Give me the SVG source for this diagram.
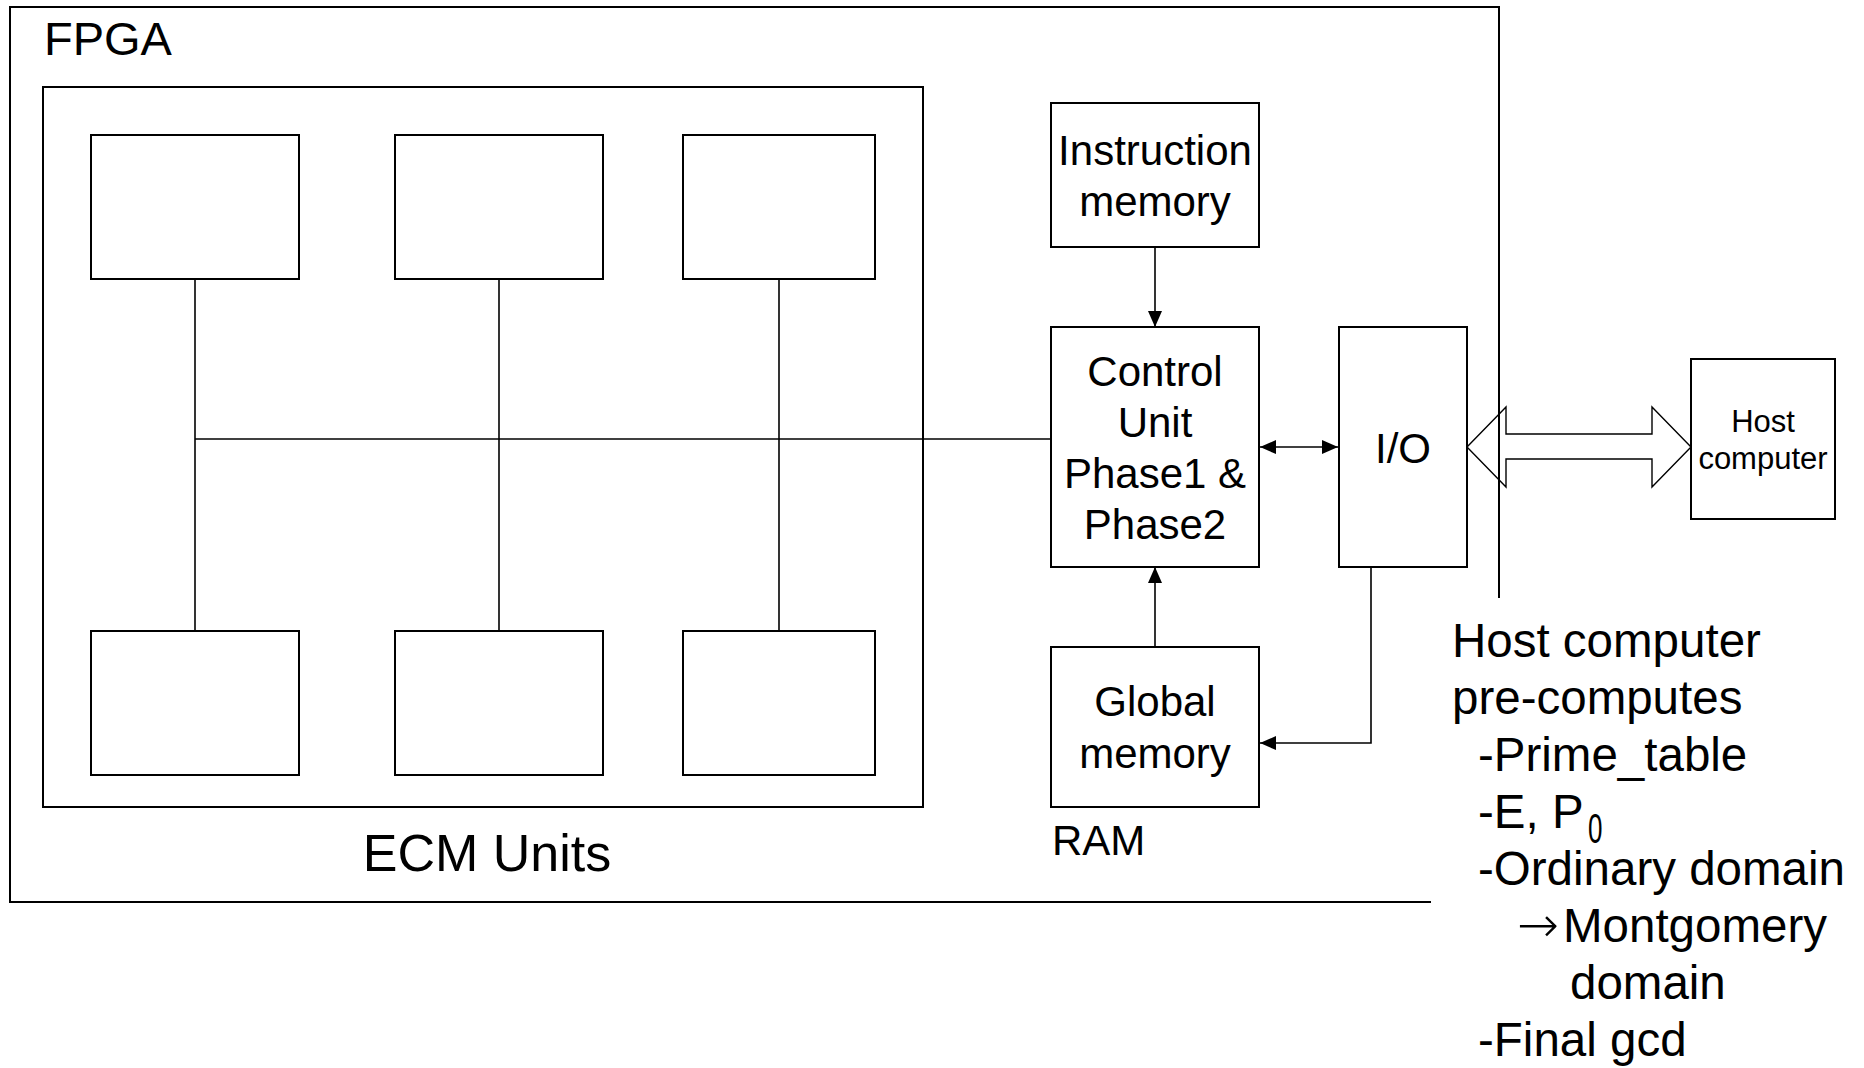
<svg xmlns="http://www.w3.org/2000/svg" width="1864" height="1068" viewBox="0 0 1864 1068">
<style>
text{font-family:"Liberation Sans",Arial,sans-serif;fill:#000}
.box{fill:#fff;stroke:#000;stroke-width:2}
.ln{fill:none;stroke:#000;stroke-width:1.6}
.t42{font-size:42px;text-anchor:middle}
.host{font-size:47.5px}
</style>
<defs>
<marker id="ah" markerUnits="userSpaceOnUse" viewBox="0 0 16 14" markerWidth="16" markerHeight="14" refX="16" refY="7" orient="auto-start-reverse">
<path d="M0,0 L16,7 L0,14 Z" fill="#000"/>
</marker>
</defs>
<rect width="1864" height="1068" fill="#fff"/>

<g id="fpga">
<path d="M1499,598 V7 H10 V902 H1431" fill="none" stroke="#000" stroke-width="2"/>
<text x="44" y="55" style="font-size:47px">FPGA</text>
</g>

<g id="ecm-units">
<rect class="box" x="43" y="87" width="880" height="720"/>
<text x="487" y="871" style="font-size:52px;text-anchor:middle">ECM Units</text>
</g>

<g id="connectors">
<line class="ln" x1="195" y1="439" x2="1051" y2="439"/>
<line class="ln" x1="195" y1="279" x2="195" y2="631"/>
<line class="ln" x1="499" y1="279" x2="499" y2="631"/>
<line class="ln" x1="779" y1="279" x2="779" y2="631"/>
<line class="ln" x1="1155" y1="247" x2="1155" y2="327" marker-end="url(#ah)"/>
<line class="ln" x1="1155" y1="647" x2="1155" y2="567" marker-end="url(#ah)"/>
<line class="ln" x1="1260" y1="447" x2="1338" y2="447" marker-start="url(#ah)" marker-end="url(#ah)"/>
<path class="ln" d="M1371,567 V743 H1260" marker-end="url(#ah)"/>
<polygon points="1467,447 1506,407 1506,434 1652,434 1652,407 1691,447 1652,487 1652,459 1506,459 1506,487" fill="none" stroke="#000" stroke-width="1.4"/>
</g>

<g id="ecm1"><rect class="box" x="91" y="135" width="208" height="144"/></g>
<g id="ecm2"><rect class="box" x="395" y="135" width="208" height="144"/></g>
<g id="ecm3"><rect class="box" x="683" y="135" width="192" height="144"/></g>
<g id="ecm4"><rect class="box" x="91" y="631" width="208" height="144"/></g>
<g id="ecm5"><rect class="box" x="395" y="631" width="208" height="144"/></g>
<g id="ecm6"><rect class="box" x="683" y="631" width="192" height="144"/></g>

<g id="instruction-memory">
<rect class="box" x="1051" y="103" width="208" height="144"/>
<text class="t42" x="1155" y="165">Instruction</text>
<text class="t42" x="1155" y="216">memory</text>
</g>

<g id="control-unit">
<rect class="box" x="1051" y="327" width="208" height="240"/>
<text class="t42" x="1155" y="386">Control</text>
<text class="t42" x="1155" y="437">Unit</text>
<text class="t42" x="1155" y="488">Phase1 &amp;</text>
<text class="t42" x="1155" y="539">Phase2</text>
</g>

<g id="io">
<rect class="box" x="1339" y="327" width="128" height="240"/>
<text class="t42" x="1403" y="463">I/O</text>
</g>

<g id="global-memory">
<rect class="box" x="1051" y="647" width="208" height="160"/>
<text class="t42" x="1155" y="716">Global</text>
<text class="t42" x="1155" y="768">memory</text>
<text x="1052" y="855" style="font-size:42px">RAM</text>
</g>

<g id="host-computer">
<rect class="box" x="1691" y="359" width="144" height="160"/>
<text x="1763" y="432" style="font-size:31px;text-anchor:middle">Host</text>
<text x="1763" y="469" style="font-size:31px;text-anchor:middle">computer</text>
</g>

<g id="host-notes">
<text class="host" x="1452" y="657">Host computer</text>
<text class="host" x="1452" y="714">pre-computes</text>
<text class="host" x="1478" y="771">-Prime_table</text>
<text class="host" x="1478" y="828">-E, P</text>
<text transform="translate(1588,843) scale(0.62,1)" style="font-size:42px">0</text>
<text class="host" x="1478" y="885">-Ordinary domain</text>
<text class="host" x="1517" y="942"><tspan style="font-family:'DejaVu Sans',sans-serif;font-size:50px;font-weight:200">→</tspan><tspan x="1563">Montgomery</tspan></text>
<text class="host" x="1570" y="999">domain</text>
<text class="host" x="1478" y="1056">-Final gcd</text>
</g>
</svg>
